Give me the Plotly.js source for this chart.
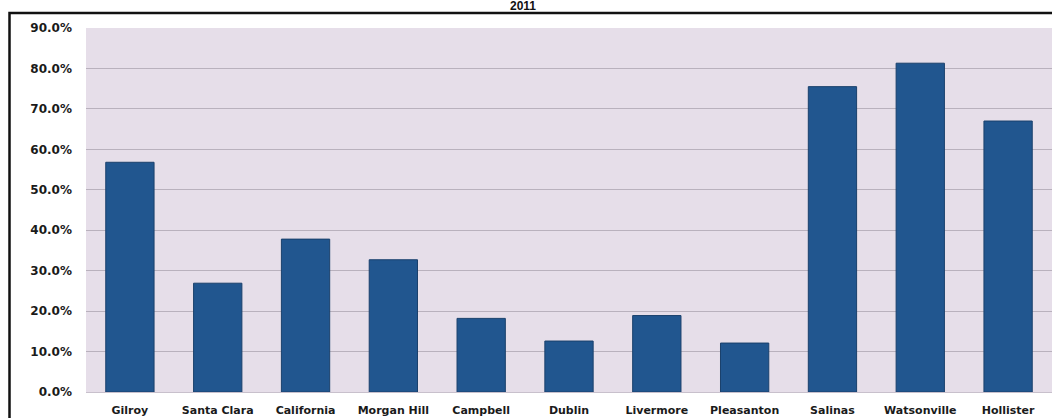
<!DOCTYPE html>
<html>
<head>
<meta charset="utf-8">
<script src="https://cdn.plot.ly/plotly-3.0.1.min.js"></script>
<style>
  html, body { margin: 0; padding: 0; background: #ffffff; }
  #chart { width: 1052px; height: 418px; }
</style>
</head>
<body>
<div id="chart"></div>
<script>
// Share by city, 2011 (percent)
const cities = ["Gilroy", "Santa Clara", "California", "Morgan Hill", "Campbell",
                "Dublin", "Livermore", "Pleasanton", "Salinas", "Watsonville", "Hollister"];
const shares = [56.8, 26.9, 37.8, 32.7, 18.2, 12.6, 18.9, 12.1, 75.5, 81.3, 67.0];
const yTicks = [0, 10, 20, 30, 40, 50, 60, 70, 80, 90];
const chartTitle = "2011";

const W = 1052, H = 418;
const margin = { l: 86, r: 0, t: 28, b: 26 };
const plotW = W - margin.l - margin.r;
const plotH = H - margin.t - margin.b;
// convert page pixels (from the top-left corner) to paper coordinates
const px = x => (x - margin.l) / plotW;
const py = y => (H - margin.b - y) / plotH;

const trace = {
  type: "bar",
  x: cities,
  y: shares,
  marker: { color: "#21568f", line: { color: "#1a406c", width: 1 } },
  hoverinfo: "x+y"
};

const layout = {
  width: W,
  height: H,
  margin: margin,
  paper_bgcolor: "#ffffff",
  plot_bgcolor: "#e6dee9",
  bargap: 0.45,
  showlegend: false,
  font: { family: "DejaVu Sans, Verdana, sans-serif", color: "#1a1a1a" },
  xaxis: {
    type: "category",
    showgrid: false,
    zeroline: false,
    showline: false,
    ticks: "",
    ticklabelstandoff: 10,
    tickfont: { family: "DejaVu Sans, Verdana, sans-serif", size: 11, color: "#1a1a1a", weight: "bold" }
  },
  yaxis: {
    range: [0, 90],
    tickvals: yTicks,
    ticktext: yTicks.map(v => v.toFixed(1) + "%"),
    showgrid: true,
    gridcolor: "#b9b1bd",
    gridwidth: 1,
    zeroline: true,
    zerolinecolor: "#c8c0cc",
    showline: false,
    ticks: "",
    ticklabelstandoff: 13,
    tickfont: { family: "DejaVu Sans, Verdana, sans-serif", size: 12, color: "#1a1a1a", weight: "bold" }
  },
  annotations: [{
    text: chartTitle,
    xref: "paper", yref: "paper",
    x: px(523), y: py(6.5),
    xanchor: "center", yanchor: "middle",
    showarrow: false,
    borderpad: 0,
    font: { family: "Liberation Sans, Arial, sans-serif", size: 12, color: "#111111", weight: "bold" }
  }],
  shapes: [{
    type: "rect",
    xref: "paper", yref: "paper",
    x0: px(9.5), x1: px(1070),
    y0: py(440), y1: py(13),
    line: { color: "#111111", width: 2.5 },
    fillcolor: "rgba(0,0,0,0)",
    layer: "above"
  }]
};

Plotly.newPlot("chart", [trace], layout, { displayModeBar: false, staticPlot: true });
</script>
</body>
</html>
